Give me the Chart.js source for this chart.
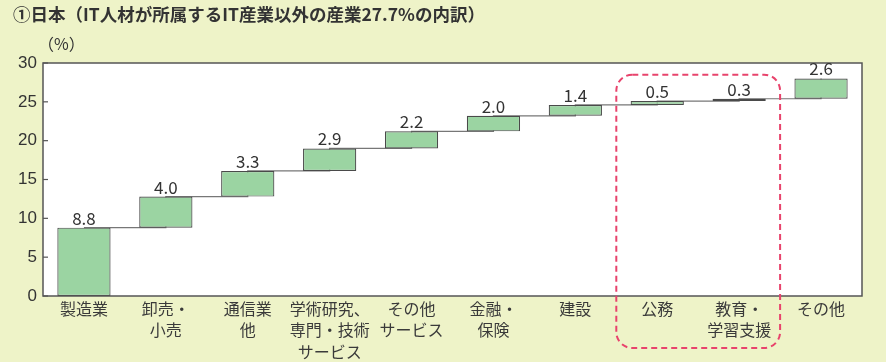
<!DOCTYPE html>
<html>
<head>
<meta charset="utf-8">
<script src="https://cdn.jsdelivr.net/npm/chart.js@4"></script>
<style>
  html, body { margin: 0; padding: 0; background: #eef3c8; }
  #wrap { width: 886px; height: 362px; position: relative; }
</style>
</head>
<body>
<div id="wrap"><canvas id="waterfall" width="886" height="362"></canvas></div>
<script>
var categories = [
    "製造業", ["卸売・", "小売"], ["通信業", "他"], ["学術研究、", "専門・技術", "サービス"],
    ["その他", "サービス"], ["金融・", "保険"], "建設", "公務", ["教育・", "学習支援"], "その他"
];
var shares = [8.8, 4.0, 3.3, 2.9, 2.2, 2.0, 1.4, 0.5, 0.3, 2.6];
var yTicks = [0, 5, 10, 15, 20, 25, 30];
var titleText = "①日本（IT人材が所属するIT産業以外の産業27.7%の内訳）";
var unitText = "（%）";
var highlighted = [7, 8]; // 公務, 教育・学習支援

var FONT = "'Noto Sans CJK JP', 'Noto Sans', sans-serif";

// floating bars + running total for the connector line
var floating = [];
var running = [];
var total = 0;
shares.forEach(function (v) {
    floating.push([total, total + v]);
    total += v;
    running.push(total);
});

var decorations = {
    id: "decorations",
    beforeDraw: function (chart) {
        var c = chart.ctx, a = chart.chartArea;
        c.save();
        c.fillStyle = "#ffffff";
        c.fillRect(a.left, a.top, a.right - a.left, a.bottom - a.top);
        c.fillStyle = "#333333";
        c.font = "bold 17.5px " + FONT;
        c.textBaseline = "middle";
        c.fillText(titleText, 13, 14);
        c.font = "16px " + FONT;
        c.fillText(unitText, 38, 44);
        c.restore();
    },
    afterDatasetsDraw: function (chart) {
        var c = chart.ctx, a = chart.chartArea;
        var y = chart.scales.y, x = chart.scales.x;
        c.save();
        // frame
        c.strokeStyle = "#555555";
        c.lineWidth = 1.5;
        c.strokeRect(a.left, a.top, a.right - a.left, a.bottom - a.top);
        // inward tick marks
        c.lineWidth = 1.2;
        yTicks.forEach(function (t) {
            var py = y.getPixelForValue(t);
            c.beginPath();
            c.moveTo(a.left, py);
            c.lineTo(a.left + 5, py);
            c.stroke();
        });
        // value labels
        var meta = chart.getDatasetMeta(1);
        c.fillStyle = "#333333";
        c.font = "17px " + FONT;
        c.textAlign = "center";
        c.textBaseline = "bottom";
        meta.data.forEach(function (bar, i) {
            c.fillText(shares[i].toFixed(1), bar.x, bar.y - 1);
        });
        // dashed highlight box
        var step = (a.right - a.left) / categories.length;
        var left = x.getPixelForValue(highlighted[0]) - step / 2;
        var right = x.getPixelForValue(highlighted[highlighted.length - 1]) + step / 2;
        var top = y.getPixelForValue(28.5);
        var bottom = chart.height - 14;
        c.strokeStyle = "#e8436c";
        c.lineWidth = 2;
        c.setLineDash([6, 4]);
        c.beginPath();
        c.roundRect(left, top, right - left, bottom - top, 16);
        c.stroke();
        c.restore();
    }
};

new Chart(document.getElementById("waterfall").getContext("2d"), {
    data: {
        labels: categories,
        datasets: [
            {
                type: "line",
                data: running,
                stepped: "before",
                borderColor: "#777777",
                borderWidth: 1.2,
                pointRadius: 0,
                order: 2
            },
            {
                type: "bar",
                data: floating,
                backgroundColor: "#9bd4a2",
                borderColor: "#4a4a4a",
                borderWidth: 1.2,
                borderSkipped: false,
                categoryPercentage: 1,
                barPercentage: 0.65,
                order: 1
            }
        ]
    },
    options: {
        responsive: false,
        animation: false,
        layout: { padding: { top: 63, right: 24, left: 0, bottom: 0 } },
        scales: {
            x: {
                grid: { display: false, drawTicks: false },
                border: { display: false },
                afterFit: function (s) { s.height = 66; },
                ticks: {
                    color: "#3a3a3a",
                    padding: 2,
                    maxRotation: 0,
                    autoSkip: false,
                    font: { family: FONT, size: 16, lineHeight: 1.35 }
                }
            },
            y: {
                min: 0,
                max: 30,
                grid: { display: false, drawTicks: false },
                border: { display: false },
                afterFit: function (s) { s.width = 43; },
                afterBuildTicks: function (s) {
                    s.ticks = yTicks.map(function (v) { return { value: v }; });
                },
                ticks: {
                    color: "#333333",
                    padding: 6,
                    font: { family: "'Liberation Sans', Arial, sans-serif", size: 17 }
                }
            }
        },
        plugins: {
            legend: { display: false },
            tooltip: { enabled: false }
        }
    },
    plugins: [decorations]
});
</script>
</body>
</html>
